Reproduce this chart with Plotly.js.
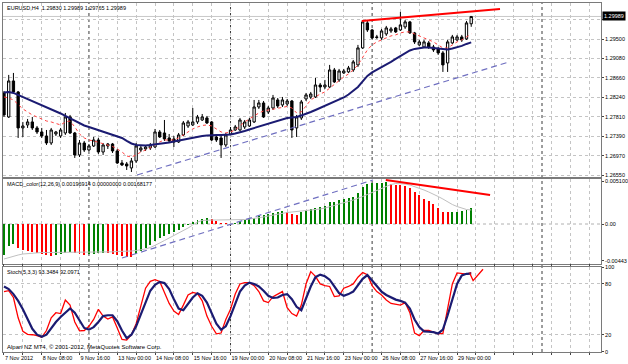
<!DOCTYPE html>
<html>
<head>
<meta charset="utf-8">
<script src="https://cdn.plot.ly/plotly-3.0.1.min.js"></script>
<style>html,body{margin:0;padding:0;background:#fff;}#chart{width:628px;height:364px;}</style>
</head>
<body>
<div id="chart"></div>
<script>
// ---- time axis labels (every 8th H4 bar) ----
const timeLabels = ['7 Nov 2012','8 Nov 08:00','9 Nov 16:00','13 Nov 00:00','14 Nov 08:00','15 Nov 16:00','19 Nov 00:00','20 Nov 08:00','21 Nov 16:00','23 Nov 00:00','26 Nov 08:00','27 Nov 16:00','29 Nov 00:00'];
const weekStarts = [18, 48, 78, 114];

// ---- EURUSD H4 candles ----
const openP = [1.28330,1.27809,1.28590,1.28352,1.27571,1.27636,1.27701,1.27571,1.27484,1.27397,
1.27245,1.27440,1.27397,1.27462,1.27809,1.27462,1.26985,1.27245,1.27093,1.27180,
1.27310,1.27050,1.27180,1.27223,1.27072,1.26811,1.26790,1.26703,1.26855,1.27093,
1.27115,1.27137,1.27158,1.27484,1.27462,1.27354,1.27332,1.27267,1.27419,1.27614,
1.27636,1.27701,1.27744,1.27788,1.27701,1.27375,1.27354,1.27202,1.27440,1.27527,
1.27527,1.27592,1.27614,1.27701,1.28026,1.28113,1.27918,1.28004,1.28178,1.28070,
1.28091,1.28156,1.27571,1.27788,1.28200,1.28243,1.28243,1.28503,1.28460,1.28460,
1.28829,1.28612,1.28764,1.28786,1.28829,1.28938,1.29306,1.29849,1.29697,1.29545,
1.29523,1.29610,1.29675,1.29740,1.29697,1.29762,1.29871,1.29632,1.29372,1.29328,
1.29415,1.29328,1.29285,1.29198,1.28981,1.29415,1.29480,1.29545,1.29502,1.29830];
const highP = [1.28373,1.28721,1.28764,1.28373,1.27701,1.27766,1.27809,1.27614,1.27571,1.27527,
1.27571,1.27506,1.27571,1.27896,1.27853,1.27484,1.27310,1.27289,1.27223,1.27375,
1.27354,1.27245,1.27245,1.27245,1.27115,1.26876,1.26833,1.26920,1.27245,1.27180,
1.27180,1.27245,1.27549,1.27527,1.27744,1.27440,1.27397,1.27462,1.27722,1.27744,
1.28004,1.27853,1.27874,1.27831,1.27722,1.27419,1.27397,1.27462,1.27592,1.27636,
1.27788,1.27744,1.27788,1.28178,1.28178,1.28156,1.28048,1.28287,1.28221,1.28243,
1.28200,1.28178,1.27853,1.28178,1.28330,1.28352,1.28655,1.28547,1.28612,1.28938,
1.28872,1.28851,1.28851,1.28916,1.29046,1.29372,1.29892,1.29892,1.29719,1.29589,
1.29719,1.29784,1.29762,1.29762,1.30088,1.29914,1.29892,1.29654,1.29480,1.29480,
1.29458,1.29372,1.29328,1.29241,1.29480,1.29589,1.29589,1.29589,1.29892,1.29989];
const lowP = [1.27809,1.27788,1.28330,1.27354,1.27375,1.27571,1.27527,1.27440,1.27354,1.27202,
1.27202,1.27397,1.27354,1.27419,1.27440,1.26920,1.26941,1.27050,1.27072,1.27158,
1.27007,1.26985,1.27115,1.27028,1.26790,1.26746,1.26659,1.26616,1.26811,1.27050,
1.27072,1.27093,1.27137,1.27354,1.27289,1.27245,1.27158,1.27245,1.27397,1.27571,
1.27614,1.27657,1.27722,1.27657,1.27289,1.27267,1.26920,1.27158,1.27419,1.27506,
1.27506,1.27549,1.27592,1.27679,1.27983,1.27788,1.27874,1.27961,1.28004,1.28026,
1.28048,1.27354,1.27375,1.27744,1.28156,1.28200,1.28221,1.28352,1.28417,1.28438,
1.28547,1.28569,1.28742,1.28764,1.28786,1.28894,1.29285,1.29654,1.29502,1.29502,
1.29480,1.29567,1.29632,1.29632,1.29675,1.29719,1.29610,1.29393,1.29350,1.29306,
1.29285,1.29220,1.29155,1.28786,1.28786,1.29393,1.29458,1.29437,1.29480,1.29765];
const closeP = [1.27853,1.28590,1.28352,1.27571,1.27614,1.27701,1.27571,1.27484,1.27397,1.27245,
1.27527,1.27484,1.27527,1.27809,1.27462,1.26985,1.27245,1.27093,1.27180,1.27310,
1.27050,1.27202,1.27223,1.27072,1.26811,1.26768,1.26746,1.26855,1.27180,1.27137,
1.27158,1.27202,1.27484,1.27375,1.27332,1.27289,1.27267,1.27419,1.27679,1.27701,
1.27701,1.27809,1.27809,1.27679,1.27310,1.27310,1.27202,1.27419,1.27527,1.27592,
1.27744,1.27701,1.27744,1.28026,1.28113,1.27809,1.28004,1.28221,1.28048,1.28178,
1.28156,1.27527,1.27809,1.28135,1.28287,1.28308,1.28503,1.28460,1.28503,1.28829,
1.28569,1.28807,1.28807,1.28872,1.29003,1.29306,1.29871,1.29697,1.29523,1.29534,
1.29675,1.29740,1.29719,1.29654,1.29806,1.29871,1.29632,1.29437,1.29437,1.29437,
1.29328,1.29263,1.29198,1.28938,1.29437,1.29545,1.29545,1.29480,1.29849,1.29989];

// ---- moving averages ----
const maSlow = [1.28341,1.28352,1.28330,1.28287,1.28243,1.28200,1.28156,1.28113,1.28070,1.28026,
1.27983,1.27939,1.27885,1.27831,1.27777,1.27722,1.27668,1.27625,1.27592,1.27560,
1.27527,1.27495,1.27462,1.27430,1.27397,1.27354,1.27289,1.27234,1.27202,1.27191,
1.27191,1.27202,1.27213,1.27223,1.27245,1.27256,1.27278,1.27300,1.27321,1.27343,
1.27365,1.27387,1.27397,1.27408,1.27419,1.27419,1.27419,1.27419,1.27430,1.27451,
1.27473,1.27506,1.27538,1.27571,1.27603,1.27636,1.27668,1.27701,1.27722,1.27755,
1.27788,1.27798,1.27809,1.27842,1.27874,1.27918,1.27961,1.28004,1.28048,1.28091,
1.28135,1.28189,1.28232,1.28297,1.28373,1.28460,1.28580,1.28699,1.28775,1.28829,
1.28894,1.28948,1.29003,1.29068,1.29133,1.29198,1.29252,1.29285,1.29306,1.29317,
1.29317,1.29306,1.29296,1.29274,1.29274,1.29296,1.29317,1.29350,1.29393,1.29426];
const maFast = [1.28243,1.28221,1.28178,1.28070,1.27983,1.27918,1.27853,1.27809,1.27766,1.27722,
1.27701,1.27668,1.27636,1.27701,1.27722,1.27592,1.27440,1.27354,1.27310,1.27289,
1.27256,1.27234,1.27202,1.27169,1.27115,1.27050,1.26963,1.26941,1.26985,1.27050,
1.27093,1.27137,1.27202,1.27267,1.27310,1.27310,1.27310,1.27354,1.27419,1.27484,
1.27549,1.27592,1.27625,1.27636,1.27614,1.27549,1.27484,1.27462,1.27484,1.27527,
1.27614,1.27701,1.27766,1.27831,1.27896,1.27939,1.27961,1.27983,1.28004,1.28026,
1.28037,1.28004,1.27896,1.27918,1.28048,1.28178,1.28243,1.28308,1.28352,1.28438,
1.28525,1.28612,1.28677,1.28742,1.28829,1.28938,1.29111,1.29263,1.29372,1.29437,
1.29480,1.29523,1.29567,1.29589,1.29632,1.29654,1.29654,1.29610,1.29567,1.29523,
1.29480,1.29437,1.29372,1.29306,1.29306,1.29372,1.29437,1.29480,1.29545,1.29610];

// ---- MACD_color(12,26,9) ----
const macdMain = [-0.00372,-0.00264,-0.00240,-0.00288,-0.00312,-0.00324,-0.00336,-0.00348,-0.00360,-0.00372,
-0.00378,-0.00372,-0.00360,-0.00342,-0.00330,-0.00348,-0.00360,-0.00366,-0.00360,-0.00354,
-0.00348,-0.00342,-0.00348,-0.00354,-0.00366,-0.00378,-0.00390,-0.00396,-0.00360,-0.00324,
-0.00288,-0.00252,-0.00204,-0.00168,-0.00144,-0.00120,-0.00096,-0.00072,-0.00036,-0.00012,
0.00024,0.00048,0.00066,0.00078,0.00060,0.00036,0.00018,0.00012,0.00006,0.00018,
0.00036,0.00048,0.00060,0.00078,0.00096,0.00108,0.00120,0.00132,0.00144,0.00156,
0.00144,0.00120,0.00114,0.00144,0.00168,0.00180,0.00188,0.00208,0.00220,0.00260,
0.00268,0.00288,0.00300,0.00316,0.00328,0.00368,0.00448,0.00476,0.00488,0.00490,
0.00492,0.00500,0.00476,0.00468,0.00466,0.00460,0.00428,0.00388,0.00348,0.00300,
0.00276,0.00236,0.00196,0.00148,0.00144,0.00146,0.00150,0.00155,0.00174,0.00196914];
const macdSignal = [-0.00420,-0.00402,-0.00384,-0.00372,-0.00360,-0.00354,-0.00348,-0.00342,-0.00342,-0.00342,
-0.00342,-0.00342,-0.00342,-0.00342,-0.00342,-0.00342,-0.00342,-0.00342,-0.00342,-0.00342,
-0.00340,-0.00336,-0.00336,-0.00334,-0.00330,-0.00330,-0.00330,-0.00324,-0.00318,-0.00312,
-0.00300,-0.00282,-0.00258,-0.00228,-0.00198,-0.00168,-0.00138,-0.00108,-0.00084,-0.00048,
-0.00012,0.00024,0.00042,0.00048,0.00048,0.00048,0.00048,0.00048,0.00048,0.00048,
0.00048,0.00054,0.00060,0.00066,0.00072,0.00084,0.00096,0.00108,0.00120,0.00132,
0.00138,0.00144,0.00150,0.00156,0.00156,0.00162,0.00168,0.00180,0.00192,0.00204,
0.00222,0.00240,0.00252,0.00270,0.00288,0.00306,0.00330,0.00354,0.00378,0.00408,
0.00432,0.00456,0.00474,0.00486,0.00486,0.00480,0.00468,0.00450,0.00432,0.00408,
0.00384,0.00360,0.00330,0.00300,0.00264,0.00234,0.00210,0.00192,0.00174,0.00168177];

// ---- Stoch(5,3,3) ----
const stochK = [71,72,64,40,24,20.5,20,19,17,25,
40,46,45,61,55,35,24.5,25,30,38,
50,42,38.5,41,28,14.5,13.7,20,33,55,
75,83,85,83,70,57,48,44,55,67,
70,68.5,60,42,30,21,22,38,50,68,
80,81.5,81.5,78,71,60,58,65,68,71,
52,45,42,55,80,94.5,89,80,78,77,
65,66,75,77,80,88,93.4,91,78,71,
67,61,57,56,55,58,46,22,19,25,
25,23,21,21.5,50,80,93,92,91.5,93.3484];
const stochD = [77,74,68,60,50,38,27,20,17.5,20,
28,35,41,46,51,46,37,28,26,29,
35,42,43,43,36,25,16,20,30,44,
58,72,79,82.5,81,74,62,51,49,56,
64,69,66,58,46,33,26,30,42,57,
71,78,81.5,80,77,72,66,63.5,64,67,
68,62,53,49,64,77,88,91,89,85,
77,69,66,68,71,78,86,90.5,84,77,
71,67,64,61.5,60,58,51,38,29,24,
23.5,23,21.5,26,43,63,80,90,92,92.0971];

// ---- axis ticks ----
const priceTicks = [1.26550,1.26970,1.27390,1.27810,1.28240,1.28660,1.29080,1.29500,1.29920];
const macdTicks = [-0.00443, 0, 0.0051];
const macdTickText = ['-0.00443','0.00','0.005100'];
const stochTicks = [0, 20, 80, 100];

// ---- hand-drawn objects ----
const trendUpX = [28.2, 107.0],   trendUpY = [1.26550, 1.29001];
const trendTopX = [75.8, 105.1],  trendTopY = [1.29890, 1.30150];
const macdDashX = [25.0, 78.2],   macdDashY = [-0.00408, 0.00528];
const macdTopX = [80.9, 103.0],   macdTopY = [0.00528, 0.00348];
const stochMarkX = [98.7, 99.4, 101.5], stochMarkY = [92.6, 83.9, 97.4];

// ================= build =================
const n = closeP.length;
const idx = closeP.map((_, i) => i);
const last = n - 1;
const navy = '#1b1b72';
const FONT = 'Liberation Sans, Arial, sans-serif';

const macdColors = macdMain.map((v, i) => (i === 0 || v >= macdMain[i - 1]) ? '#008000' : '#ff0000');

const traces = [
  {type:'candlestick', x:idx, open:openP, high:highP, low:lowP, close:closeP,
   xaxis:'x', yaxis:'y', whiskerwidth:0, hoverinfo:'skip',
   increasing:{line:{color:'#000', width:1}, fillcolor:'#ffffff'},
   decreasing:{line:{color:'#000', width:1}, fillcolor:'#000000'}},
  {type:'scatter', mode:'lines', x:idx, y:maFast, xaxis:'x', yaxis:'y',
   line:{color:'#ff4040', width:1, dash:'dot'}, hoverinfo:'skip'},
  {type:'scatter', mode:'lines', x:idx, y:maSlow, xaxis:'x', yaxis:'y',
   line:{color:navy, width:2}, hoverinfo:'skip'},
  {type:'scatter', mode:'lines', x:trendUpX, y:trendUpY, xaxis:'x', yaxis:'y',
   line:{color:'#6f6fc0', width:1.2, dash:'6px,4px'}, hoverinfo:'skip'},
  {type:'scatter', mode:'lines', x:trendTopX, y:trendTopY, xaxis:'x', yaxis:'y',
   line:{color:'#ff0000', width:2}, hoverinfo:'skip'},

  {type:'bar', x:idx, y:macdMain, xaxis:'x', yaxis:'y2', width:0.42,
   marker:{color:macdColors, line:{width:0}}, hoverinfo:'skip'},
  {type:'scatter', mode:'lines', x:idx, y:macdSignal, xaxis:'x', yaxis:'y2',
   line:{color:'#c0c0c0', width:1}, hoverinfo:'skip'},
  {type:'scatter', mode:'lines', x:macdDashX, y:macdDashY, xaxis:'x', yaxis:'y2',
   line:{color:'#6f6fc0', width:1.2, dash:'6px,4px'}, hoverinfo:'skip'},
  {type:'scatter', mode:'lines', x:macdTopX, y:macdTopY, xaxis:'x', yaxis:'y2',
   line:{color:'#ff0000', width:2}, hoverinfo:'skip'},

  {type:'scatter', mode:'lines', x:idx, y:stochK, xaxis:'x', yaxis:'y3',
   line:{color:'#ff0000', width:1.3}, hoverinfo:'skip'},
  {type:'scatter', mode:'lines', x:idx, y:stochD, xaxis:'x', yaxis:'y3',
   line:{color:navy, width:2.2}, hoverinfo:'skip'},
  {type:'scatter', mode:'lines', x:stochMarkX, y:stochMarkY, xaxis:'x', yaxis:'y3',
   line:{color:'#ff0000', width:1.3}, hoverinfo:'skip'}
];

// x ticks: grid every 4 bars, label every 8 bars
const xTickVals = [], xTickText = [];
for (let v = 0; v <= 124; v += 4) {
  xTickVals.push(v);
  const k = v / 8;
  xTickText.push((v % 8 === 0 && k < timeLabels.length) ? timeLabels[k] : '');
}

const gridCol = '#c4c4c4';
const frameCol = '#7a7a7a';
const yCommon = {side:'right', showline:true, mirror:true, linecolor:frameCol, linewidth:1,
  ticks:'outside', ticklen:2, tickcolor:'#444', tickfont:{family:FONT, size:5.5, color:'#000'},
  zeroline:false, fixedrange:true};

const shapes = [];
weekStarts.forEach(w => shapes.push({type:'line', xref:'x', yref:'paper', x0:w, x1:w, y0:0, y1:1,
  layer:'below', line:{color:'#3a3a3a', width:1, dash:'dot'}}));
shapes.push({type:'line', xref:'paper', yref:'y', x0:0, x1:1, y0:closeP[last], y1:closeP[last],
  layer:'below', line:{color:'#c8c8c8', width:1}});
shapes.push({type:'line', xref:'paper', yref:'y2', x0:0, x1:1, y0:0, y1:0,
  layer:'below', line:{color:'#b0b0b0', width:1, dash:'dot'}});

const f5 = v => v.toFixed(5);
const titleText = 'EURUSD,H4  ' + [openP[last], highP[last], lowP[last], closeP[last]].map(f5).join(' ');
const macdText = 'MACD_color(12,26,9) ' + macdMain[last].toFixed(8) + ' ' + (0).toFixed(8) + ' ' + macdSignal[last].toFixed(8);
const stochText = 'Stoch(5,3,3) ' + stochK[last].toFixed(4) + ' ' + stochD[last].toFixed(4);

// price tick hidden behind the current-price box
const priceTickText = priceTicks.map(v => Math.abs(v - closeP[last]) < 0.001 ? '' : f5(v));

const py = p => (352 - p) / 349;  // pixel row -> paper fraction
const annotations = [
  {xref:'paper', yref:'paper', x:0.0035, y:py(8), xanchor:'left', yanchor:'middle', showarrow:false,
   text:titleText, font:{family:FONT, size:5.5, color:'#000'}},
  {xref:'paper', yref:'paper', x:0.0035, y:py(184), xanchor:'left', yanchor:'middle', showarrow:false,
   text:macdText, font:{family:FONT, size:5.5, color:'#000'}},
  {xref:'paper', yref:'paper', x:0.0035, y:py(272), xanchor:'left', yanchor:'middle', showarrow:false,
   text:stochText, font:{family:FONT, size:5.5, color:'#000'}},
  {xref:'paper', yref:'paper', x:0.0035, y:py(347), xanchor:'left', yanchor:'middle', showarrow:false,
   text:'Alpari NZ MT4, © 2001-2012, MetaQuotes Software Corp.', font:{family:FONT, size:6, color:'#000'}},
  {xref:'paper', yref:'y', x:1, y:closeP[last], xanchor:'left', yanchor:'middle', xshift:1, showarrow:false,
   text:f5(closeP[last]), bgcolor:'#000', borderpad:1, font:{family:FONT, size:5.5, color:'#fff'}}
];

const layout = {
  width:628, height:364,
  margin:{l:3, r:27, t:3, b:12, pad:0},
  paper_bgcolor:'#ffffff', plot_bgcolor:'#ffffff',
  showlegend:false, bargap:0,
  font:{family:FONT, size:5.5, color:'#000'},
  xaxis:{domain:[0,1], anchor:'y3', range:[-0.21, 126.5], type:'linear',
    tickvals:xTickVals, ticktext:xTickText, ticks:'outside', ticklen:2, tickcolor:'#444',
    tickangle:0, ticklabelposition:'outside right', automargin:false,
    tickfont:{family:FONT, size:5.5, color:'#000'},
    showgrid:true, gridcolor:gridCol, griddash:'dot', gridwidth:1,
    showline:true, mirror:'all', linecolor:frameCol, linewidth:1,
    zeroline:false, rangeslider:{visible:false}, fixedrange:true},
  yaxis:Object.assign({}, yCommon, {domain:[175/349, 1], range:[1.26507, 1.30281],
    tickvals:priceTicks, ticktext:priceTickText,
    showgrid:true, gridcolor:gridCol, griddash:'dot', gridwidth:1}),
  yaxis2:Object.assign({}, yCommon, {domain:[88/349, 173/349], range:[-0.0048, 0.0054],
    tickvals:macdTicks, ticktext:macdTickText, showgrid:false}),
  yaxis3:Object.assign({}, yCommon, {domain:[0, 85.5/349], range:[-0.4, 100.6],
    tickvals:stochTicks, ticktext:stochTicks.map(String),
    showgrid:true, gridcolor:gridCol, griddash:'dot', gridwidth:1}),
  shapes:shapes,
  annotations:annotations
};

Plotly.newPlot('chart', traces, layout, {staticPlot:true, displayModeBar:false});
</script>
</body>
</html>
